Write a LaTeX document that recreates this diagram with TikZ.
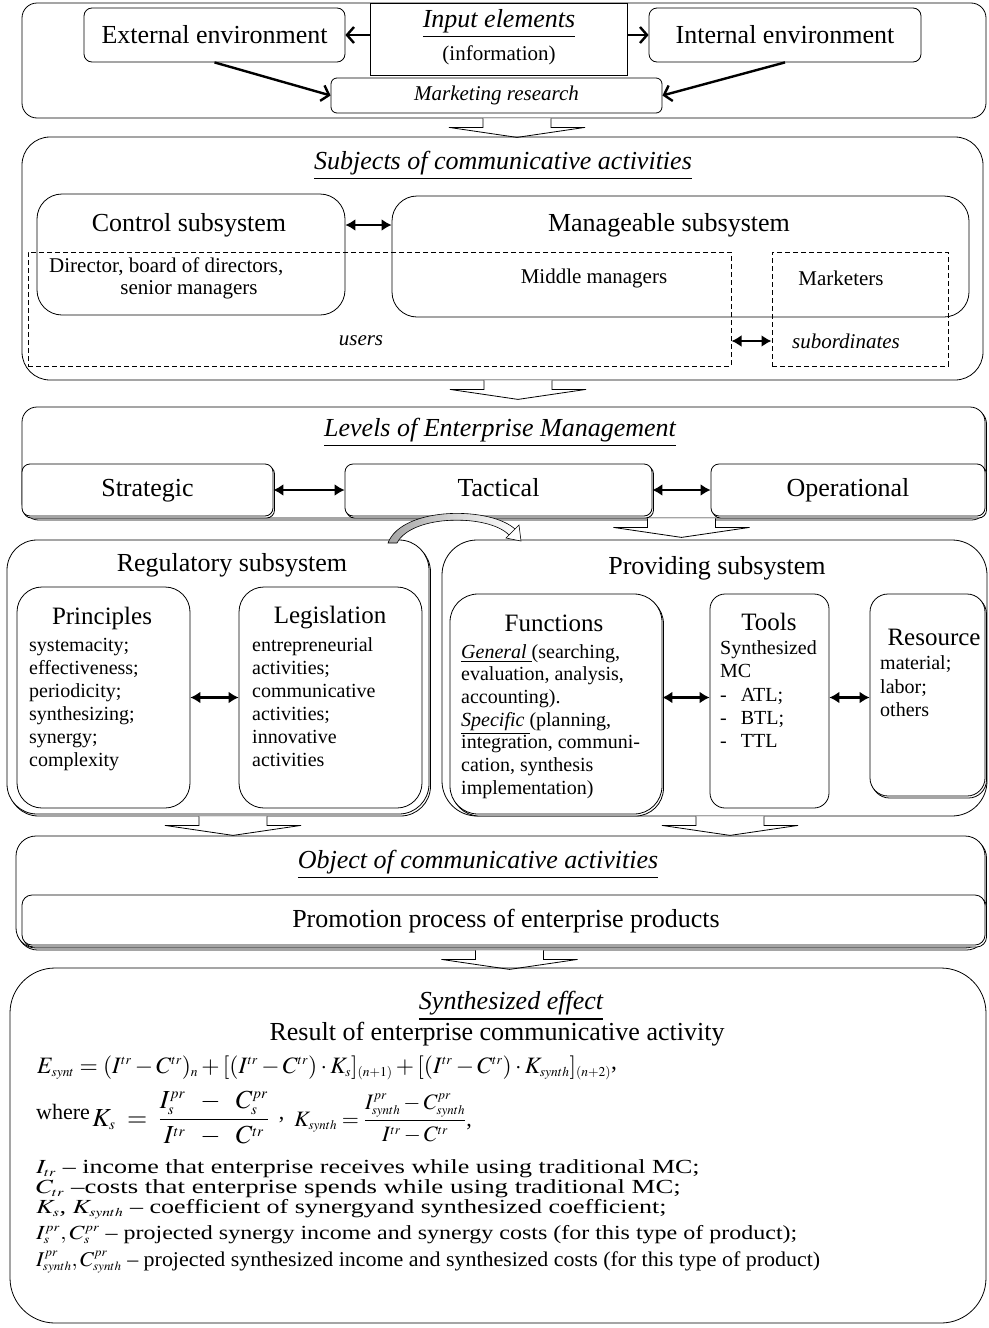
\documentclass[tikz,border=0pt]{standalone}
\usepackage{graphicx}
\usepackage{mathptmx}
\usepackage{fontspec}
\setmainfont{Liberation Serif}
\DeclareMathSizes{20}{20}{12}{9}
\DeclareMathSizes{21}{21}{12.5}{9}
\DeclareMathSizes{22}{22}{13}{10}
\DeclareMathSizes{23.5}{23.5}{13.5}{10}
\DeclareMathSizes{26}{26}{15}{11}
\usetikzlibrary{arrows.meta,fit,calc,shadows}
\newcommand{\fA}{\fontsize{26}{30}\selectfont}
\newcommand{\fT}{\fontsize{25}{29}\selectfont}
\newcommand{\fM}{\fontsize{21}{25}\selectfont}
\newcommand{\fS}{\fontsize{20}{23}\selectfont}
\newcommand{\fL}{\fontsize{22}{25}\selectfont}
\begin{document}
\begin{tikzpicture}[x=1pt,y=-1pt,
  rbox/.style={draw, line width=0.8pt, rounded corners=#1, inner sep=0pt},
  rbox/.default=10pt,
  shd/.style={fill=white, copy shadow={shadow xshift=1.5pt, shadow yshift=-2pt, draw=black, line width=0.8pt}},
  sbox/.style={draw, line width=0.8pt, inner sep=0pt},
  dbox/.style={draw, line width=1pt, dash pattern=on 5pt off 3pt, inner sep=0pt},
  dbl/.style={{Latex[length=10pt,width=12pt]}-{Latex[length=10pt,width=12pt]}, line width=2.6pt},
  barb/.style={-{Straight Barb[length=7pt,width=16pt]}, line width=2.4pt},
  txt/.style={inner sep=0pt},
  hollow/.pic={\draw[fill=white, line width=0.8pt] (-34,0) -- (-34,9) -- (-68,9) -- (0,19) -- (68,9) -- (34,9) -- (34,0);}
]
\useasboundingbox (0,0) rectangle (988,1328);
% ---------- top block
\node[rbox=15pt, fit={(22,3)(986,118)}] (topblk) {};
\node[rbox=8pt, fit={(84,8)(345,62)}] (ext) {};
\node[txt, font=\fA] (extt) at (ext.center) {External environment};
\node[sbox, fill=white, fit={(370,3)(627,75)}] (inp) {};
\node[txt, font=\fA\itshape] (inpt) at (499,24) {\underline{Input elements}};
\node[txt, font=\fM] (inpi) at (499,55) {(information)};
\node[rbox=8pt, fit={(649,8)(921,62)}] (int) {};
\node[txt, font=\fA] (intt) at (int.center) {Internal environment};
\node[rbox=6pt, fit={(331,78)(662,113)}] (mr) {};
\node[txt, font=\fM\itshape] (mrt) at (mr.center) {Marketing research};
\draw[barb] (inp.west |- ext) -- (ext.east);
\draw[barb] (inp.east |- int) -- (int.west);
\draw[barb] (ext.south) -- (mr.west);
\draw[barb] (int.south) -- (mr.east);
\pic at ($(topblk.south)+(13,0)$) {hollow};
% ---------- subjects
\node[rbox=28pt, fit={(22,137)(983,380)}] (subj) {};
\node[txt, font=\fA\itshape] (subjt) at (503,166) {\underline{Subjects of communicative activities}};
\node[rbox=25pt, fit={(37,194)(345,315)}] (ctrl) {};
\node[rbox=25pt, fit={(392,196)(969,317)}] (mng) {};
\node[txt, font=\fA] (ctrlt) at (189,225) {Control subsystem};
\node[txt, font=\fA] (mngt) at (669,225) {Manageable subsystem};
\draw[dbl] (ctrl.east |- ctrlt) -- (mng.west |- ctrlt);
\node[dbox, fit={(28,252)(731,366)}] (users) {};
\node[dbox, fit={(772,252)(948,366)}] (subo) {};
\node[txt, font=\fM, anchor=west] (dir) at (49,267) {Director, board of directors,};
\node[txt, font=\fM] (sen) at (189,290) {senior managers};
\node[txt, font=\fM] (mid) at (594,278) {Middle managers};
\node[txt, font=\fM] (mkt) at (841,278) {Marketers};
\node[txt, font=\fM\itshape] (userst) at (361,341) {users};
\node[txt, font=\fM\itshape] (subt) at (846,341) {subordinates};
\draw[dbl] (users.east |- userst) -- (subo.west |- userst);
\pic at ($(subj.south)+(15.5,0)$) {hollow};
% ---------- levels
\node[rbox=15pt, shd, fit={(22,407)(985,518)}] (lev) {};
\node[txt, font=\fA\itshape] (levt) at (500,433) {\underline{Levels of Enterprise Management}};
\node[rbox=8pt, shd, fit={(22,464)(273,516)}] (str) {};
\node[rbox=8pt, shd, fit={(345,464)(652,516)}] (tac) {};
\node[rbox=8pt, shd, fit={(711,464)(985,516)}] (ope) {};
\node[txt, font=\fA] (strt) at (str.center) {\strut Strategic};
\node[txt, font=\fA] (tact) at (tac.center) {\strut Tactical};
\node[txt, font=\fA] (opet) at (ope.center) {\strut Operational};
\draw[dbl] (str) -- (tac);
\draw[dbl] (tac) -- (ope);
\pic at ($(tac.south east)!0.5!(ope.south west)+(0,2)$) {hollow};
% ---------- regulatory
\node[rbox=30pt, shd, fit={(7,540)(429,814)}] (reg) {};
\node[txt, font=\fA] (regt) at (232,565) {Regulatory subsystem};
\node[rbox=25pt, fit={(17,587)(190,808)}] (pri) {};
\node[rbox=25pt, fit={(239,587)(422,808)}] (leg) {};
\draw[dbl] (pri) -- (leg);
\node[txt, font=\fT] (prit) at (102,618) {Principles};
\node[txt, font=\fS, anchor=north west, align=left] (pril) at (29,635) {\strut systemacity;\\ effectiveness;\\ periodicity;\\ synthesizing;\\ synergy;\\ complexity};
\node[txt, font=\fT] (legt) at (330,618) {Legislation};
\node[txt, font=\fS, anchor=north west, align=left] (legl) at (252,635) {\strut entrepreneurial\\ activities;\\ communicative\\ activities;\\ innovative\\ activities};
% ---------- providing
\node[rbox=35pt, fit={(442,540)(987,816)}] (prov) {};
\node[txt, font=\fA] (provt) at (717,568) {Providing subsystem};
\node[rbox=28pt, shd, fit={(450,594)(662,814)}] (fun) {};
\node[rbox=15pt, fit={(710,594)(829,808)}] (too) {};
\node[rbox=18pt, shd, fit={(870,594)(985,796)}] (res) {};
\draw[dbl] (fun.east |- pri) -- (too.west |- pri);
\draw[dbl] (too.east |- pri) -- (res.west |- pri);
\node[txt, font=\fT] (funt) at (554,623) {Functions};
\node[txt, font=\fontsize{20}{22.7}\selectfont, anchor=north west, align=left] (funl) at (461,642) {\strut\underline{\textit{General }}(searching,\\ evaluation, analysis,\\ accounting).\\ \underline{\textit{Specific }}(planning,\\ integration, communi-\\ cation, synthesis\\ implementation)};
\node[txt, font=\fT] (toot) at (769,622) {Tools};
\node[txt, font=\fontsize{20}{23.3}\selectfont, anchor=north west, align=left] (tool) at (720,638) {\strut Synthesized\\ MC\\ -\hspace{14pt}ATL;\\ -\hspace{14pt}BTL;\\ -\hspace{14pt}TTL};
\node[txt, font=\fT] (rest) at (934,637) {Resource};
\node[txt, font=\fontsize{20}{23.5}\selectfont, anchor=north west, align=left] (resl) at (880,653) {\strut material;\\ labor;\\ others};
% curved arrow from regulatory to providing
\path[draw, line width=0.6pt, left color=gray!70, right color=white] (388,543) .. controls (402,506) and (492,506) .. (516,530) -- (509,535) .. controls (489,514) and (412,514) .. (397,543) -- cycle;
\draw[line width=0.6pt, fill=white] (519,525) -- (521,541) -- (506,538) -- cycle;
\pic at ($(reg.south)+(15,2)$) {hollow};
\pic at ($(prov.south)+(15.5,0)$) {hollow};
% ---------- object
\node[rbox=20pt, shd, fit={(16,836)(985,948)}] (obj) {};
\node[txt, font=\fA\itshape] (objt) at (478,865) {\underline{Object of communicative activities}};
\node[rbox=10pt, shd, fit={(22,895)(985,945)}] (prom) {};
\node[txt, font=\fA] (promt) at (506,921) {Promotion process of enterprise products};
\pic at ($(obj.south)+(9,2)$) {hollow};
% ---------- synthesized effect
\node[rbox=45pt, fit={(10,968)(986,1323)}] (syn) {};
\node[txt, font=\fA\itshape] (synt) at (511,1006) {\underline{Synthesized effect}};
\node[txt, font=\fA] (resu) at (497,1034) {Result of enterprise communicative activity};
\node[txt, font=\fontsize{23.5}{27}\selectfont, anchor=base west] (f1) at (37,1073) {$E_{synt} = (I^{tr} - C^{tr})_n + [(I^{tr} - C^{tr})\cdot K_s]_{(n+1)} + [(I^{tr} - C^{tr})\cdot K_{synth}]_{(n+2)}$\raisebox{4pt}{,}};
\node[txt, anchor=base west] (f2) at (36,1126) {{\fL\raisebox{7pt}{where}} {\fontsize{26}{30}\selectfont$\displaystyle K_s \mkern4mu=\mkern4mu \frac{I_s^{pr} \mkern8mu-\mkern8mu C_s^{pr}}{I^{tr} \mkern8mu-\mkern8mu C^{tr}}$}\quad{\fL\raisebox{7pt}{,}}\quad{\fL$\displaystyle K_{synth} = \frac{I_{synth}^{pr} - C_{synth}^{pr}}{I^{tr} - C^{tr}}$,}};
\node[txt, font=\fS, anchor=base west] (l1) at (36,1173) {\scalebox{1.3}[1]{$I_{tr}$ – income that enterprise receives while using traditional MC;}};
\node[txt, font=\fS, anchor=base west] (l2) at (36,1193) {\scalebox{1.34}[1]{$C_{tr}$ –costs that enterprise spends while using traditional MC;}};
\node[txt, font=\fS, anchor=base west] (l3) at (36,1213) {\scalebox{1.3}[1]{$K_s$\textit{, }$K_{synth}$ – coefficient of synergyand synthesized coefficient;}};
\node[txt, font=\fS, anchor=base west] (l4) at (36,1239) {\scalebox{1.2}[1]{$I_s^{pr}, C_s^{pr}$ – projected synergy income and synergy costs (for this type of product);}};
\node[txt, font=\fM, anchor=base west] (l5) at (36,1266) {\scalebox{1.045}[1]{$I_{synth}^{pr}, C_{synth}^{pr}$ – projected synthesized income and synthesized costs (for this type of product)}};
\end{tikzpicture}
\end{document}
